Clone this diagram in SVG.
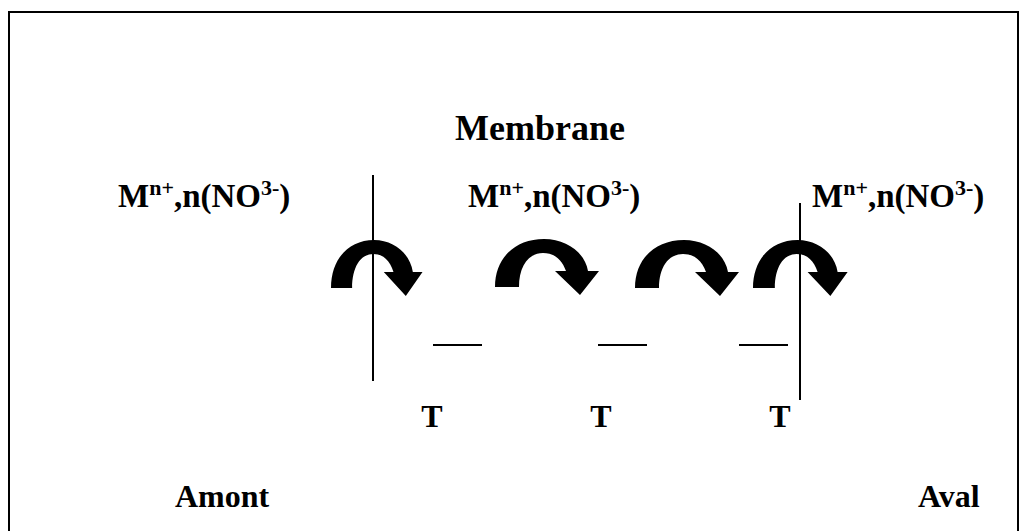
<svg xmlns="http://www.w3.org/2000/svg" width="1023" height="531" viewBox="0 0 1023 531">
<defs>
<style>
.t{font-family:"Liberation Serif","Times New Roman",serif;font-weight:bold;fill:#000}
.big{font-size:36px}
.m{font-size:33px}
.b{font-size:32px}
.s{font-size:22px}
.ln{stroke:#000;stroke-width:2;fill:none}
.arr{fill:#000}
</style>
<path id="ca" d="M0,48 C0,19 20,0 49,0 C72,0 90,14 93,32 L104,32 L85,56 L60,32 L71,32 C67,21 60,14 48,14 C33,14 24,28 24,48 Z"/>
</defs>
<rect x="0" y="0" width="1023" height="531" fill="#fff"/>
<path class="ln" d="M9,540 V12 H1018 V540"/>
<g id="membrane-label"><text class="t big" x="540" y="140" text-anchor="middle">Membrane</text></g>
<g id="species-left"><text class="t m" x="118" y="207">M<tspan class="s" dy="-12">n+</tspan><tspan dy="12">,n(NO</tspan><tspan class="s" dy="-12">3-</tspan><tspan dy="12">)</tspan></text></g>
<g id="species-mid"><text class="t m" x="468" y="207">M<tspan class="s" dy="-12">n+</tspan><tspan dy="12">,n(NO</tspan><tspan class="s" dy="-12">3-</tspan><tspan dy="12">)</tspan></text></g>
<g id="species-right"><text class="t m" x="812" y="207">M<tspan class="s" dy="-12">n+</tspan><tspan dy="12">,n(NO</tspan><tspan class="s" dy="-12">3-</tspan><tspan dy="12">)</tspan></text></g>
<g id="membrane-left"><line class="ln" x1="373" y1="175" x2="373" y2="381"/></g>
<g id="membrane-right"><line class="ln" x1="800" y1="203" x2="800" y2="400"/></g>
<g id="arrows">
<use href="#ca" class="arr" transform="translate(331,240) scale(0.88,1)"/>
<use href="#ca" class="arr" transform="translate(495,239)"/>
<use href="#ca" class="arr" transform="translate(635,240)"/>
<use href="#ca" class="arr" transform="translate(753,240) scale(0.91,1)"/>
</g>
<g id="sites">
<line class="ln" x1="433" y1="345" x2="482" y2="345"/>
<line class="ln" x1="598" y1="345" x2="647" y2="345"/>
<line class="ln" x1="739" y1="345" x2="788" y2="345"/>
</g>
<g id="t1"><text class="t b" x="432" y="427" text-anchor="middle">T</text></g>
<g id="t2"><text class="t b" x="601" y="427" text-anchor="middle">T</text></g>
<g id="t3"><text class="t b" x="780" y="427" text-anchor="middle">T</text></g>
<g id="amont"><text class="t b" x="175" y="507">Amont</text></g>
<g id="aval"><text class="t b" x="918" y="507">Aval</text></g>
</svg>
